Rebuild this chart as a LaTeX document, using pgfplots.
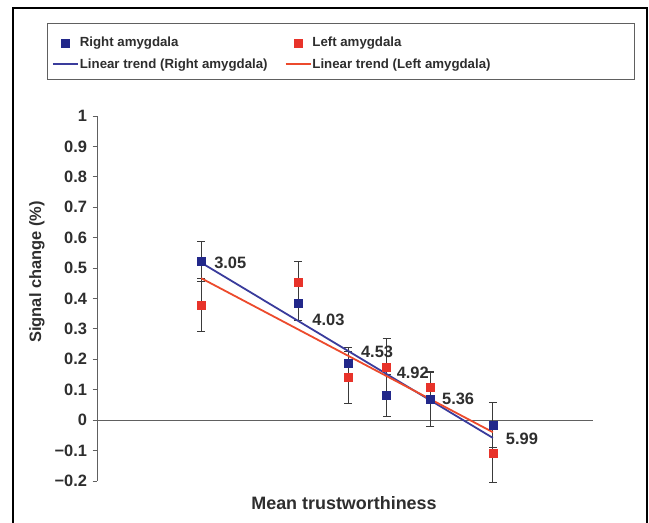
\documentclass[border=0pt]{standalone}
\usepackage{fontspec}
\setmainfont{Liberation Sans}
\usepackage{pgfplots}
\usepackage{pgfplotstable}
\pgfplotsset{compat=1.18}
\definecolor{txt}{HTML}{2E2E2E}
\definecolor{blueM}{HTML}{22288A}
\definecolor{redM}{HTML}{E8332A}
\definecolor{blueL}{HTML}{3A3C9C}
\definecolor{redL}{HTML}{EC4A2C}
\definecolor{errg}{HTML}{3A3A3A}
\definecolor{axg}{HTML}{606060}
\pgfplotstableread{
x rb rbe lf lfe
3.05 0.523 0.066 0.378 0.087
4.03 0.386 0.057 0.455 0.066
4.53 0.186 0.053 0.140 0.085
4.92 0.082 0.068 0.175 0.094
5.36 0.069 0.091 0.110 0.047
5.99 -0.016 0.074 -0.107 0.096
}\data
\begin{document}
\begin{tikzpicture}
\useasboundingbox (0,0) rectangle (649bp,523bp);
\draw[black, line width=2.5bp] (13bp,-2bp) -- (13bp,515bp) -- (647bp,515bp) -- (647bp,-2bp);
\draw[axg, line width=0.9bp] (47bp,500bp) rectangle (634bp,444bp);
\begin{axis}[
  at={(97bp,42bp)}, anchor=south west,
  scale only axis, width=496bp, height=365bp,
  xmin=2, xmax=7, ymin=-0.2, ymax=1,
  axis y line*=left, axis x line*=middle,
  axis line style={axg, line width=1bp},
  xtick=\empty,
  ytick={-0.2,-0.1,0,0.1,0.2,0.3,0.4,0.5,0.6,0.7,0.8,0.9,1},
  yticklabels={−0.2,−0.1,0,0.1,0.2,0.3,0.4,0.5,0.6,0.7,0.8,0.9,1},
  ytick align=outside, major tick length=4.5bp,
  tick style={axg, line width=0.9bp},
  yticklabel style={font=\bfseries\fontsize{16.5}{16.5}\selectfont, text=txt, xshift=-2bp},
  clip=false,
  ylabel={Signal change (\%)},
  every axis y label/.style={at={(axis description cs:-0.121,0.573)}, anchor=center, rotate=90,
    font=\bfseries\fontsize{16.5}{16.5}\selectfont, text=txt},
  xlabel={Mean trustworthiness},
  every axis x label/.style={at={(axis description cs:0.498,-0.06)}, anchor=center,
    font=\bfseries\fontsize{18}{18}\selectfont, text=txt},
  legend columns=2,
  legend image code/.code={\draw[mark repeat=2,mark phase=2,#1] plot coordinates {(0bp,0bp) (12.5bp,0bp) (25bp,0bp)};},
  legend style={at={(axis description cs:-0.097,1.226)}, anchor=north west, draw=none, fill=none,
    font=\bfseries\fontsize{13.3}{13.3}\selectfont, text=txt, row sep=7.5bp,
    nodes={inner xsep=1bp, inner ysep=1.5bp}},
  legend cell align=left,
  /tikz/every even column/.append style={column sep=16bp},
]
\addplot[only marks, mark=square*, mark size=4bp, color=blueM,
  error bars/.cd, y dir=both, y explicit,
  error bar style={color=errg, line width=0.8bp},
  error mark options={color=errg, mark size=4bp, line width=0.8bp, rotate=90}]
  table[x=x, y=rb, y error=rbe] {\data};
\addlegendentry{Right amygdala}
\addplot[only marks, mark=square*, mark size=4bp, color=redM,
  error bars/.cd, y dir=both, y explicit,
  error bar style={color=errg, line width=0.8bp},
  error mark options={color=errg, mark size=4bp, line width=0.8bp, rotate=90}]
  table[x=x, y=lf, y error=lfe] {\data};
\addlegendentry{Left amygdala}
\addplot[blueL, line width=1.8bp, no marks] table[x=x, y={create col/linear regression={y=rb}}] {\data};
\addlegendentry{Linear trend (Right amygdala)}
\addplot[redL, line width=1.8bp, no marks] table[x=x, y={create col/linear regression={y=lf}}] {\data};
\addlegendentry{Linear trend (Left amygdala)}
\begin{scope}[every node/.style={anchor=west, font=\bfseries\fontsize{16.5}{16.5}\selectfont, text=txt, inner sep=0pt}]
\node at (axis cs:3.18,0.516) {3.05};
\node at (axis cs:4.17,0.329) {4.03};
\node at (axis cs:4.66,0.224) {4.53};
\node at (axis cs:5.02,0.155) {4.92};
\node at (axis cs:5.477,0.069) {5.36};
\node at (axis cs:6.12,-0.063) {5.99};
\end{scope}
\end{axis}
\end{tikzpicture}
\end{document}
